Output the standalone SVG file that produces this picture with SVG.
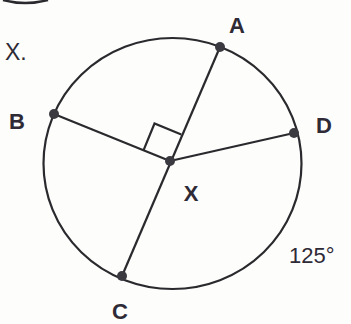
<svg xmlns="http://www.w3.org/2000/svg" width="351" height="324" viewBox="0 0 351 324">
<style>
.ln{stroke:#2a2a2e;stroke-width:2.2;fill:none}
.pt{fill:#3a3a40}
.lb{font-family:"Liberation Sans",Arial,sans-serif;font-weight:bold;fill:#2e2a36}
.tx{font-family:"Liberation Sans",Arial,sans-serif;fill:#2e2a36}
</style>
<rect width="351" height="324" fill="#fdfdfb"/>
<path d="M3,0 Q25,6 48,0" stroke="#2a2a2e" stroke-width="2.5" fill="none"/>
<text class="tx" x="5" y="60" font-size="23">X.</text>
<g id="circle"><ellipse class="ln" cx="172.5" cy="163.5" rx="129" ry="125.5"/></g>
<g id="connectors">
<line class="ln" x1="220" y1="47" x2="122" y2="276"/>
<line class="ln" x1="54" y1="114" x2="170" y2="161"/>
<line class="ln" x1="170" y1="161" x2="294" y2="133"/>
<polyline class="ln" points="143.5,150.3 154.5,123.5 181.3,134.4"/>
</g>
<g id="A"><circle class="pt" cx="220" cy="47" r="5"/><text class="lb" x="237" y="33" font-size="22" text-anchor="middle">A</text></g>
<g id="B"><circle class="pt" cx="54" cy="114" r="5"/><text class="lb" x="17" y="129" font-size="22" text-anchor="middle">B</text></g>
<g id="D"><circle class="pt" cx="294" cy="133" r="5"/><text class="lb" x="324" y="133" font-size="22" text-anchor="middle">D</text></g>
<g id="X"><circle class="pt" cx="170" cy="161" r="5"/><text class="lb" x="191" y="201" font-size="22" text-anchor="middle">X</text></g>
<g id="C"><circle class="pt" cx="122" cy="276" r="5"/><text class="lb" x="120" y="319" font-size="22" text-anchor="middle">C</text></g>
<text class="tx" x="289" y="263" font-size="22">125°</text>
</svg>
